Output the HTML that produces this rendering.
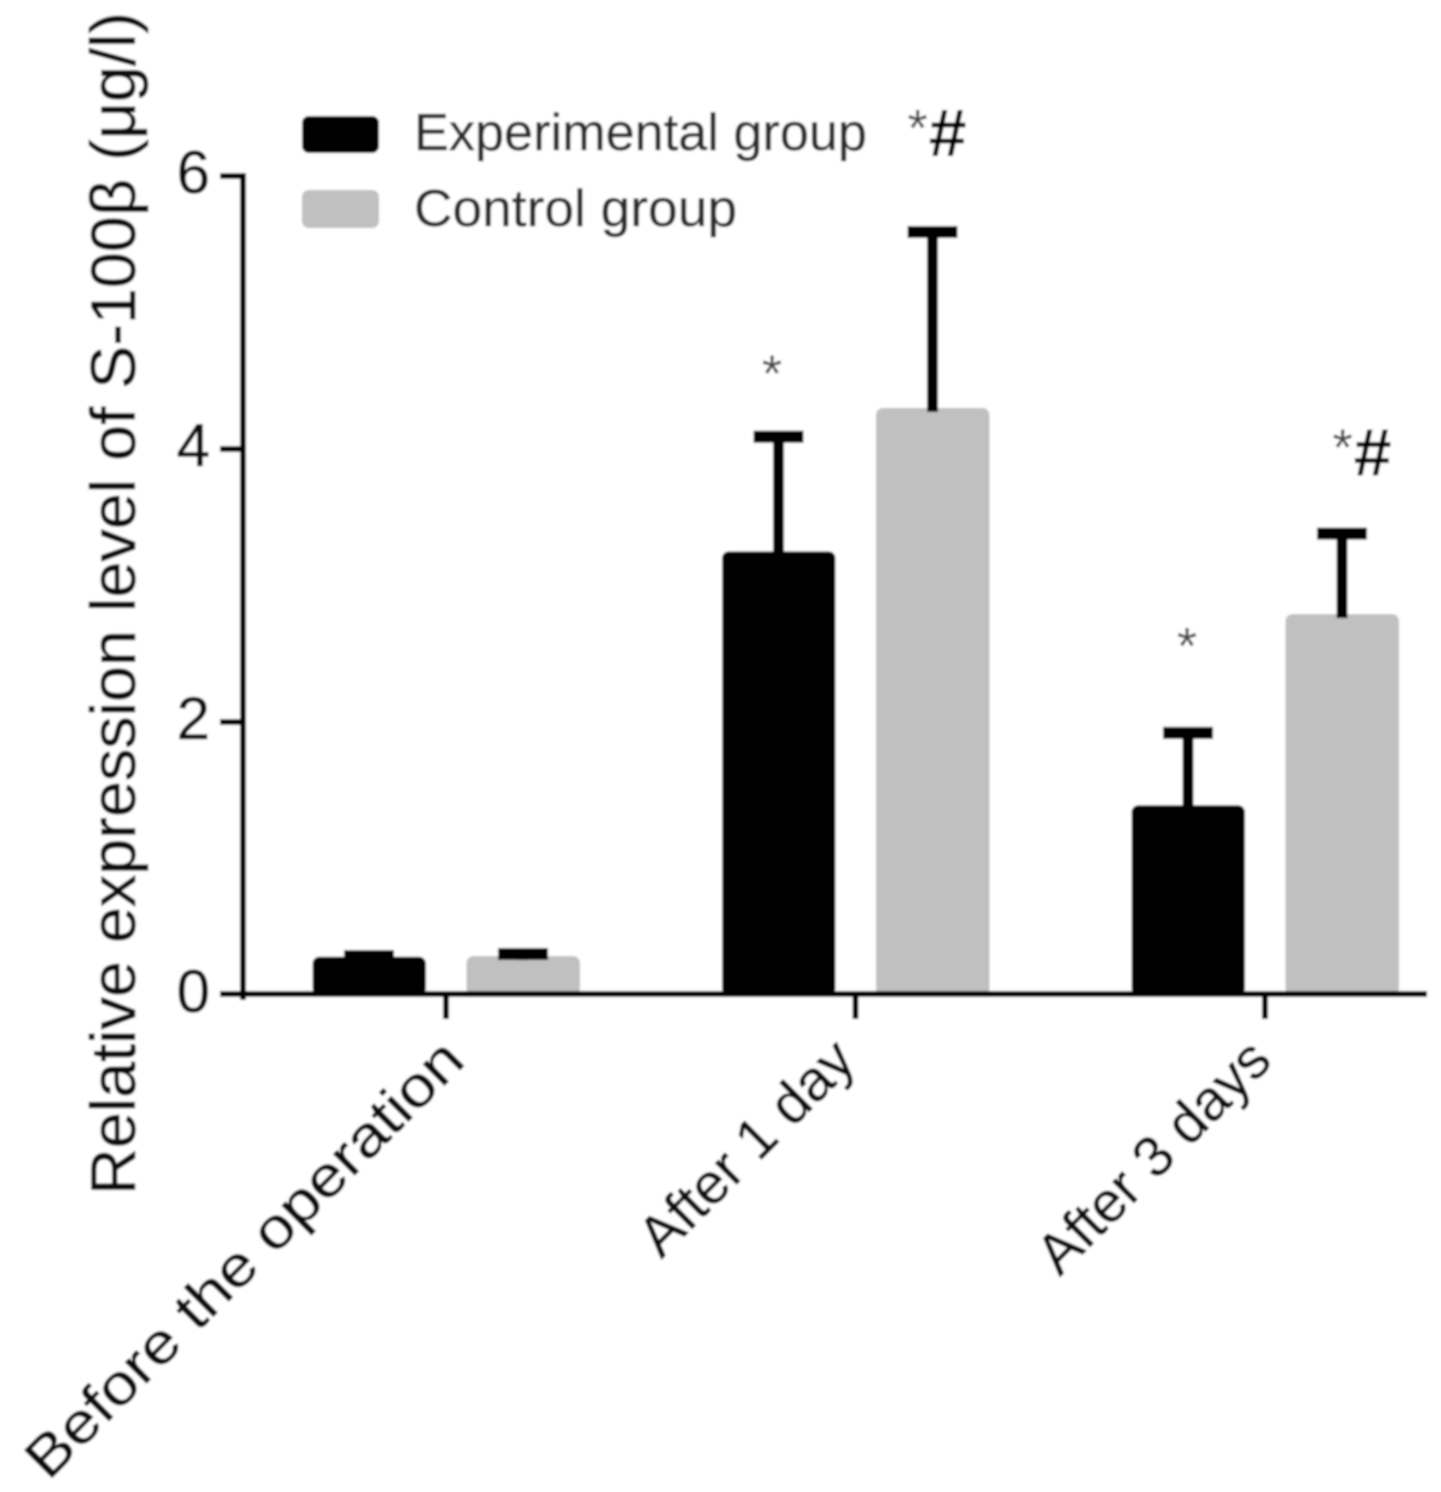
<!DOCTYPE html>
<html lang="en">
<head>
<meta charset="utf-8">
<title>Relative expression level of S-100β</title>
<style>
html,body{margin:0;padding:0;background:#fff;}
svg{display:block;}
text{font-family:"Liberation Sans",sans-serif;}
</style>
</head>
<body>
<svg id="chart" width="1441" height="1492" viewBox="0 0 1441 1492" xmlns="http://www.w3.org/2000/svg">
<defs><filter id="soft" x="0" y="0" width="100%" height="100%" filterUnits="userSpaceOnUse" primitiveUnits="userSpaceOnUse"><feGaussianBlur stdDeviation="1"/></filter></defs>
<g filter="url(#soft)" id="root">
<rect x="0" y="0" width="1441" height="1492" fill="#fff"/>
<text transform="translate(135,1195) rotate(-90)" font-size="63" fill="#111" stroke="#111" stroke-width="0.6" textLength="1183" lengthAdjust="spacingAndGlyphs">Relative expression level of S-100β (μg/l)</text>
<rect x="302" y="116" width="77" height="37" rx="7" fill="#000"/>
<text x="414" y="150" font-size="52" fill="#2a2a2a" stroke="#2a2a2a" stroke-width="0.4" textLength="453" lengthAdjust="spacingAndGlyphs">Experimental group</text>
<rect x="302" y="190" width="77" height="38" rx="7" fill="#c0c0c0"/>
<text x="414" y="226" font-size="52" fill="#2a2a2a" stroke="#2a2a2a" stroke-width="0.4" textLength="323" lengthAdjust="spacingAndGlyphs">Control group</text>
</g>
</svg>
<script>
const categories = ['Before the operation', 'After 1 day', 'After 3 days'];
const experimentalValues = [0.28, 3.25, 1.39];
const experimentalErrors = [0.005, 0.84, 0.53];
const controlValues = [0.285, 4.30, 2.79];
const controlErrors = [0.015, 1.29, 0.59];
const yTicks = [0, 2, 4, 6];
const significance = [['', ''], ['*', '*#'], ['*', '*#']];

const NS = 'http://www.w3.org/2000/svg';
const root = document.getElementById('root');
function yScale(v) { return 995 - v * (995 - 176) / 6; }
function xScale(i) { return 446 + i * 409.5; }
function make(tag, attrs, parent) {
  const el = document.createElementNS(NS, tag);
  for (const k in attrs) el.setAttribute(k, attrs[k]);
  (parent || root).appendChild(el);
  return el;
}
function drawBar(i, value, error, offset, color, group) {
  const cx = xScale(i) + offset;
  const top = yScale(value);
  const errTop = yScale(value + error);
  const bar = make('rect', {x: cx - 56.5, y: top, width: 113.5, height: yScale(0) - top, rx: 7, fill: color});
  
  
  const stem = make('line', {x1: cx, x2: cx, y1: top + 4, y2: errTop, stroke: '#000', 'stroke-width': 11});
  
  
  const cap = make('line', {x1: cx - 25, x2: cx + 25, y1: errTop, y2: errTop, stroke: '#000', 'stroke-width': 12});
  
  
}
categories.forEach(function (c, i) {
  drawBar(i, experimentalValues[i], experimentalErrors[i], -77, '#000', 'experimental');
  drawBar(i, controlValues[i], controlErrors[i], 77, '#c0c0c0', 'control');

  const tick = make('line', {x1: xScale(i), x2: xScale(i), y1: yScale(0), y2: yScale(0) + 24, stroke: '#000', 'stroke-width': 6});
  
  
  const labelDx = i === 0 ? 21 : i === 1 ? 2.5 : 9;
  const labelLen = i === 0 ? 592 : i === 1 ? 278 : 303;
  const lx = xScale(i) + labelDx;
  const ly = yScale(0) + 68;
  const label = make('text', {transform: 'translate(' + lx + ',' + ly + ') rotate(-45)', 'text-anchor': 'end', 'font-size': 57, fill: '#111', stroke: '#111', 'stroke-width': 0.6, textLength: labelLen, lengthAdjust: 'spacingAndGlyphs'});
  label.textContent = c;
  
  

  if (significance[i][0]) {
    const starDx = i === 1 ? -83.5 : -78;
    const starDy = i === 1 ? -45 : -69;
    const m1 = make('text', {x: xScale(i) + starDx, y: yScale(experimentalValues[i] + experimentalErrors[i]) + starDy, 'font-size': 52, fill: '#444', 'text-anchor': 'middle'});
    m1.textContent = significance[i][0];
    
    
  }
  if (significance[i][1]) {
    const markDx = i === 1 ? 52 : 67.5;
    const markDy = i === 1 ? -76 : -58;
    const m2 = make('text', {x: xScale(i) + markDx, y: yScale(controlValues[i] + controlErrors[i]) + markDy, 'font-size': 52, fill: '#444'});
    const star = document.createElementNS(NS, 'tspan');
    star.setAttribute('dy', '-10');
    star.textContent = significance[i][1].charAt(0);
    m2.appendChild(star);
    const hash = document.createElementNS(NS, 'tspan');
    hash.setAttribute('dy', '10');
    hash.setAttribute('dx', '1');
    hash.setAttribute('font-weight', 'bold');
    hash.setAttribute('font-size', '68');
    hash.setAttribute('fill', '#000');
    hash.textContent = significance[i][1].charAt(1);
    m2.appendChild(hash);
    
    
  }
});
const yAxis = make('line', {x1: 243, x2: 243, y1: yScale(6) - 3, y2: yScale(0) + 5, stroke: '#000', 'stroke-width': 6});


const xAxis = make('line', {x1: 220, x2: 1427, y1: yScale(0) - 1, y2: yScale(0) - 1, stroke: '#000', 'stroke-width': 6});


yTicks.forEach(function (t) {
  const tk = make('line', {x1: 220, x2: 243, y1: t === 0 ? yScale(t) - 1 : yScale(t), y2: t === 0 ? yScale(t) - 1 : yScale(t), stroke: '#000', 'stroke-width': 6});
  
  
  const tl = make('text', {x: 210, y: yScale(t) + 17, 'text-anchor': 'end', 'font-size': 60, fill: '#111', stroke: '#111', 'stroke-width': 0.6});
  tl.textContent = t;
  
  
});
</script>
</body>
</html>
